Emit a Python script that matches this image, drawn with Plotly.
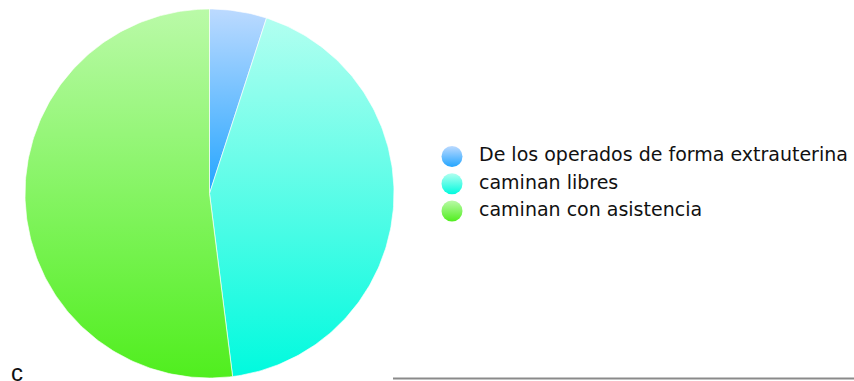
import numpy as np
import plotly.graph_objects as go

# Share of patients per outcome (percent)
labels = ["De los operados de forma extrauterina", "caminan libres", "caminan con asistencia"]
values = [5, 43, 52]
# (bottom colour, top colour) for each slice's vertical gradient
bottom_colors = ["rgb(35,165,255)", "rgb(0,250,222)", "rgb(80,238,30)"]
top_colors = ["rgb(188,218,255)", "rgb(178,255,240)", "rgb(186,250,168)"]

W, H = 854, 381
cx_px, cy_px, r_px = 209.5, 193.5, 184.5
FONT = "DejaVu Sans, Liberation Sans, Arial, sans-serif"

fig = go.Figure()

# pie slices as gradient-filled wedges, clockwise from 12 o'clock
total = float(sum(values))
start = 0.0
for lab, v, c0, c1 in zip(labels, values, bottom_colors, top_colors):
    end = start + v / total
    th = np.radians(90 - 360 * np.linspace(start, end, max(int(v * 4), 12)))
    xs = np.concatenate([[0.0], np.cos(th), [0.0]])
    ys = np.concatenate([[0.0], np.sin(th), [0.0]])
    fig.add_trace(go.Scatter(
        x=xs, y=ys, mode="lines", fill="toself",
        line=dict(color="rgba(255,255,255,0.8)", width=0.8),
        fillgradient=dict(type="vertical", colorscale=[[0, c0], [1, c1]]),
        showlegend=False, hoverinfo="skip", name=lab,
    ))
    start = end

# key: one gradient dot per category, label to its right
rows = list(range(len(labels)))
fig.add_trace(go.Scatter(
    x=[0] * len(labels), y=rows, mode="markers",
    marker=dict(size=21, color=top_colors, symbol="circle",
                gradient=dict(type="vertical", color=bottom_colors),
                line=dict(width=0)),
    xaxis="x2", yaxis="y2", showlegend=False, hoverinfo="skip",
))
fig.add_trace(go.Scatter(
    x=[27] * len(labels), y=rows, mode="text", text=labels,
    textposition="middle right",
    textfont=dict(family=FONT, size=19, color="#111"),
    xaxis="x2", yaxis="y2", showlegend=False, hoverinfo="skip",
))

x0 = -cx_px / r_px
x1 = (W - cx_px) / r_px
y1 = cy_px / r_px
y0 = -(H - cy_px) / r_px

# key axis: 1 unit = 1 px horizontally, 27.25 px per row vertically
key_left = 427
row_px, row0_px = 27.25, 156.5

fig.update_layout(
    width=W, height=H,
    margin=dict(l=0, r=0, t=0, b=0),
    paper_bgcolor="white", plot_bgcolor="white",
    showlegend=False,
    xaxis=dict(range=[x0, x1], visible=False, fixedrange=True),
    yaxis=dict(range=[y0, y1], visible=False, fixedrange=True),
    xaxis2=dict(domain=[key_left / W, 1], anchor="y2",
                range=[-(452 - key_left), W - 452], visible=False, fixedrange=True),
    yaxis2=dict(domain=[0, 1], anchor="x2",
                range=[(H - row0_px) / row_px, -row0_px / row_px],
                visible=False, fixedrange=True),
    annotations=[dict(
        x=16.5 / W, y=1 - 372.5 / H, xref="paper", yref="paper",
        text="c", showarrow=False, xanchor="center", yanchor="middle",
        font=dict(family="Liberation Sans, Arial, sans-serif", size=24, color="#111"),
    )],
    shapes=[dict(
        type="line", xref="paper", yref="paper",
        x0=393 / W, x1=1, y0=1 - 378.5 / H, y1=1 - 378.5 / H,
        line=dict(color="#8a8a8a", width=2),
    )],
)

fig.write_html("out.html")
